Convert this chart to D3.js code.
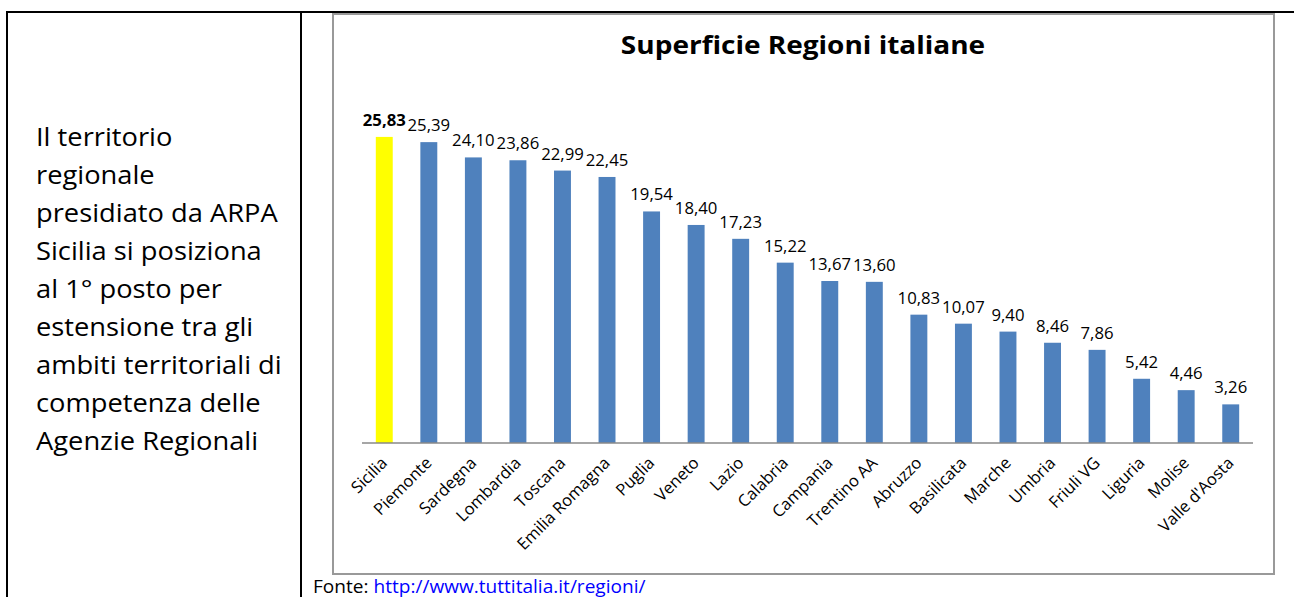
<!DOCTYPE html>
<html>
<head>
<meta charset="utf-8">
<script src="https://cdn.jsdelivr.net/npm/d3@7"></script>
<style>
  body { margin: 0; background: #fff; }
  svg { display: block; font-family: "Open Sans", sans-serif; }
</style>
</head>
<body>
<svg id="page" width="1294" height="597"></svg>
<script>
var regions = ["Sicilia", "Piemonte", "Sardegna", "Lombardia", "Toscana", "Emilia Romagna", "Puglia",
    "Veneto", "Lazio", "Calabria", "Campania", "Trentino AA", "Abruzzo", "Basilicata", "Marche",
    "Umbria", "Friuli VG", "Liguria", "Molise", "Valle d'Aosta"];
var superficie = [25.83, 25.39, 24.10, 23.86, 22.99, 22.45, 19.54, 18.40, 17.23, 15.22, 13.67,
    13.60, 10.83, 10.07, 9.40, 8.46, 7.86, 5.42, 4.46, 3.26];
var highlight = "Sicilia";

var sideText = ["Il territorio", "regionale", "presidiato da ARPA", "Sicilia si posiziona",
    "al 1° posto per", "estensione tra gli", "ambiti territoriali di", "competenza delle",
    "Agenzie Regionali"];

var svg = d3.select("#page");

// table borders
svg.append("line").attr("x1", 6).attr("x2", 1294).attr("y1", 12).attr("y2", 12)
    .attr("stroke", "#000").attr("stroke-width", 2);
svg.append("line").attr("x1", 7).attr("x2", 7).attr("y1", 11).attr("y2", 597)
    .attr("stroke", "#000").attr("stroke-width", 2);
svg.append("line").attr("x1", 301).attr("x2", 301).attr("y1", 11).attr("y2", 597)
    .attr("stroke", "#000").attr("stroke-width", 2);

// left cell text (stretched a little to mimic the wide Calibri of the original)
svg.append("g").selectAll("text")
    .data(sideText)
    .enter()
    .append("text")
    .attr("transform", function (d, i) {
        return "translate(36," + (146 + i * 38) + ") scale(1.05,1)";
    })
    .style("font-size", "26px")
    .style("fill", "#000")
    .text(function (d) { return d; });

// chart frame
svg.append("rect")
    .attr("x", 333).attr("y", 14).attr("width", 941).attr("height", 560)
    .attr("fill", "#fff").attr("stroke", "#999").attr("stroke-width", 2);

svg.append("text")
    .attr("transform", "translate(803,54) scale(1.12,1)")
    .attr("text-anchor", "middle")
    .style("font-size", "25px")
    .style("font-weight", "bold")
    .text("Superficie Regioni italiane");

var x = d3.scaleBand()
    .domain(regions)
    .range([362, 1253])
    .paddingInner(0.62)
    .paddingOuter(0.31);

var y = d3.scaleLinear()
    .domain([0, 30])
    .range([443, 87.5]);

var data = regions.map(function (r, i) {
    return { name: r, value: superficie[i] };
});

svg.append("g").selectAll("rect")
    .data(data)
    .enter()
    .append("rect")
    .attr("x", function (d) { return x(d.name); })
    .attr("y", function (d) { return y(d.value); })
    .attr("width", x.bandwidth())
    .attr("height", function (d) { return y(0) - y(d.value); })
    .attr("fill", function (d) { return d.name === highlight ? "#FFFF00" : "#4F81BD"; });

svg.append("line")
    .attr("x1", 362).attr("x2", 1253)
    .attr("y1", y(0)).attr("y2", y(0))
    .attr("stroke", "#888").attr("stroke-width", 1.5);

svg.append("g").selectAll("text")
    .data(data)
    .enter()
    .append("text")
    .attr("transform", function (d) {
        return "translate(" + (x(d.name) + x.bandwidth() / 2) + "," + (y(d.value) - 11) + ") scale(1.08,1)";
    })
    .attr("text-anchor", "middle")
    .style("font-size", "15.5px")
    .style("font-weight", function (d) { return d.name === highlight ? "bold" : "normal"; })
    .text(function (d) { return d3.format(".2f")(d.value).replace(".", ","); });

svg.append("g").selectAll("text")
    .data(data)
    .enter()
    .append("text")
    .attr("transform", function (d) {
        return "translate(" + (x(d.name) + x.bandwidth() / 2 + 4) + "," + 464 + ") rotate(-45)";
    })
    .attr("text-anchor", "end")
    .style("font-size", "16.5px")
    .text(function (d) { return d.name; });

// source note
var fonte = svg.append("text")
    .attr("transform", "translate(313,593) scale(1.09,1)")
    .style("font-size", "17.5px");
fonte.append("tspan").text("Fonte: ");
fonte.append("tspan").style("fill", "#0000FF").text("http://www.tuttitalia.it/regioni/");
</script>
</body>
</html>
